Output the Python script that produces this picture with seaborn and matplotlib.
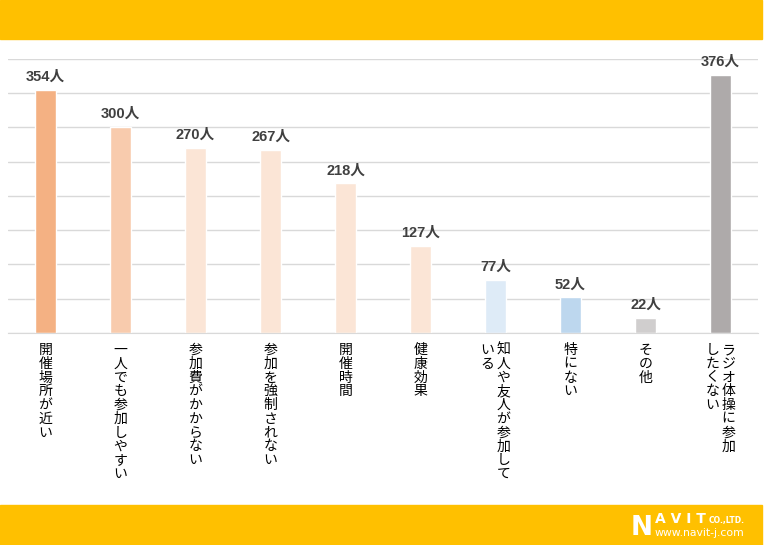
import pandas as pd
import seaborn as sns
import matplotlib.pyplot as plt
from matplotlib.patches import Rectangle

# data
categories = ['開催場所が近い', '一人でも参加しやすい', '参加費がかからない', '参加を強制されない',
              '開催時間', '健康効果', '知人や友人が参加している', '特にない', 'その他',
              'ラジオ体操に参加したくない']
label_lines = [['開催場所が近い'], ['一人でも参加しやすい'], ['参加費がかからない'],
               ['参加を強制されない'], ['開催時間'], ['健康効果'],
               ['知人や友人が参加して', 'いる'], ['特にない'], ['その他'],
               ['ラジオ体操に参加', 'したくない']]
counts = [354, 300, 270, 267, 218, 127, 77, 52, 22, 376]
colors = ['#F4B183', '#F8CBAD', '#FBE5D6', '#FBE5D6', '#FBE5D6', '#FBE5D6',
          '#DEEBF7', '#BDD7EE', '#D0CECE', '#AEAAAA']

sns.set_style('white')
plt.rcParams['font.family'] = ['Noto Sans CJK JP', 'DejaVu Sans']

df = pd.DataFrame({'category': categories, 'count': counts})

fig = plt.figure(figsize=(7.68, 5.45), dpi=100)
# yellow bands top and bottom
fig.patches.append(Rectangle((0, 1 - 39 / 545), 762 / 768, 39 / 545, transform=fig.transFigure,
                             color='#FFC000', zorder=0))
fig.patches.append(Rectangle((0, 0), 762 / 768, 40 / 545, transform=fig.transFigure,
                             color='#FFC000', zorder=0))

ax = fig.add_axes([8 / 768, (545 - 333) / 545, 750 / 768, 274.4 / 545])
sns.barplot(data=df, x='category', y='count', hue='category', palette=colors,
            width=0.29, legend=False, saturation=1, ax=ax)

ax.set_ylim(0, 400)
ax.set_yticks(range(0, 401, 50))
ax.yaxis.grid(True, color='#D9D9D9', linewidth=1)
ax.set_axisbelow(True)
for s in ['top', 'right', 'left']:
    ax.spines[s].set_visible(False)
ax.spines['bottom'].set_color('#D9D9D9')
ax.set_xlabel('')
ax.set_ylabel('')
ax.set_xticks(range(len(categories)))
ax.set_xticklabels([])
ax.set_yticklabels([])
ax.tick_params(length=0)

# value labels
for i, v in enumerate(counts):
    ax.annotate(f'{v}人', (i, v), xytext=(0, 6), textcoords='offset pixels',
                ha='center', va='bottom', fontsize=10.5, fontweight='bold', color='#404040',
                family=['Liberation Sans', 'Noto Sans CJK JP'])

# vertical japanese labels, first column on the right
for i, lines in enumerate(label_lines):
    n = len(lines)
    for j, line in enumerate(lines):
        dx = 0 if n == 1 else (8 if j == 0 else -8)
        ax.annotate('\n'.join(line), (i, 0), xycoords=('data', 'axes fraction'),
                    xytext=(dx, -10), textcoords='offset pixels',
                    ha='center', va='top', fontsize=10, color='black',
                    linespacing=0.98)

# logo
fig.text(631 / 768, 10 / 545, 'N', color='white', fontsize=19, fontweight='bold',
         ha='left', va='baseline', family='DejaVu Sans')
fig.text(655 / 768, 22 / 545, 'A V I T', color='white', fontsize=10, fontweight='bold',
         ha='left', va='baseline', family='DejaVu Sans')
fig.text(709 / 768, 22 / 545, 'CO.,LTD.', color='white', fontsize=5.5, fontweight='bold',
         ha='left', va='baseline', family='DejaVu Sans')
fig.text(655 / 768, 9 / 545, 'www.navit-j.com', color='white', fontsize=7.8,
         ha='left', va='baseline', family='DejaVu Sans')

fig.savefig('out.png', dpi=100)
